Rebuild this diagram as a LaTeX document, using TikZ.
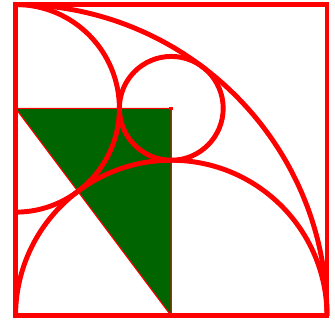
\documentclass[tikz,border=0pt]{standalone}
\usepackage{tikz}
\usepackage{xcolor}
\definecolor{leafgreen}{RGB}{0,100,0}

\begin{document}
\begin{tikzpicture}[line cap=butt,arc/.style={red,line width=2.7pt}]
  \useasboundingbox (-0.3,-0.125) rectangle (6.154,6.087);
  % centres of the circles
  \coordinate (L) at (0,4);
  \coordinate (C) at (3,4);
  \coordinate (M) at (3,0);

  % green right triangle between the centres
  \filldraw[fill=leafgreen,draw=red,line width=0.6pt] (L) -- (C) -- (M) -- cycle;

  % quarter circle about the lower left corner
  \draw[arc] (6,0) arc (0:90:6);

  % half circle on the bottom side
  \draw[arc] (6,0) arc (0:180:3);

  % half circle on the left side
  \draw[arc] (0,6) arc (90:-90:2);

  % small circle in the gap
  \draw[arc] (C) circle (1);

  % square
  \draw[arc,line join=miter] (0,0) rectangle (6,6);

  % centre dot
  \fill[red] (C) ++(-0.035,-0.035) rectangle ++(0.07,0.07);
\end{tikzpicture}
\end{document}
